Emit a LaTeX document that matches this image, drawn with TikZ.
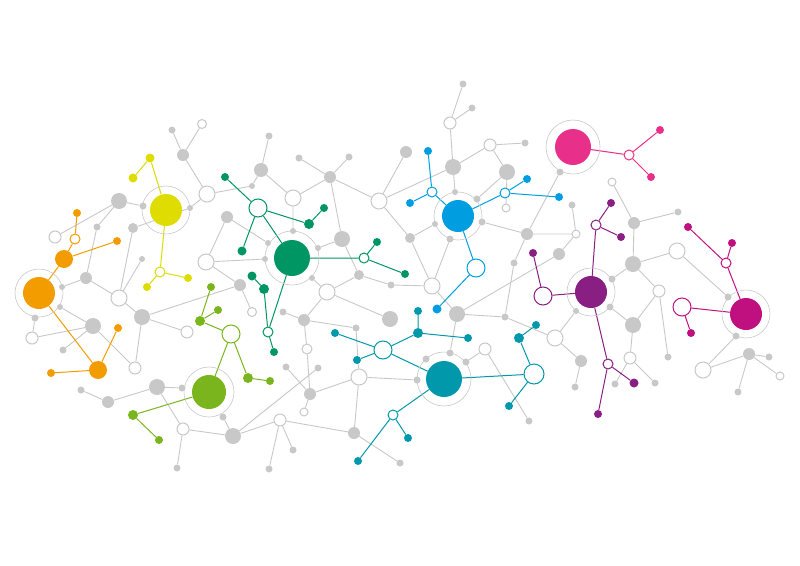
\documentclass[tikz,border=0pt]{standalone}
\usepackage{tikz}
\usetikzlibrary{backgrounds}

\definecolor{netgray}{RGB}{200,200,200}
\definecolor{norange}{RGB}{243,156,0}
\definecolor{nyellow}{RGB}{222,220,0}
\definecolor{nlime}{RGB}{122,181,29}
\definecolor{ngreen}{RGB}{0,150,100}
\definecolor{nblue}{RGB}{0,158,224}
\definecolor{nteal}{RGB}{0,152,170}
\definecolor{npurple}{RGB}{137,30,131}
\definecolor{nmagenta}{RGB}{192,16,128}
\definecolor{npink}{RGB}{232,48,138}

\begin{document}
\begin{tikzpicture}[x=1pt,y=-1pt,
  dot/.style={circle,fill=netgray,inner sep=0pt,minimum size=#1},
  dot/.default=7pt,
  ring/.style={circle,draw=netgray,fill=white,line width=1pt,inner sep=0pt,minimum size=#1},
  ring/.default=9pt,
  halo/.style={circle,draw=netgray,line width=0.6pt,inner sep=0pt,minimum size=#1},
  hub/.style={circle,fill=#1,inner sep=0pt,minimum size=32pt},
  leaf/.style={circle,fill=#1,inner sep=0pt,minimum size=8pt},
  knot/.style={circle,draw=#1,fill=white,line width=1pt,inner sep=0pt,minimum size=10pt},
  link/.style={draw=netgray,line width=0.9pt},
  twig/.style={draw=#1,line width=1pt}]
 \useasboundingbox (0,0) rectangle (800,565);

 \node[ring=12pt] (g1) at (55,237) {}; \node[dot] (g2) at (97,227) {}; \node[dot=10pt] (g3) at (133,228) {};
 \node[dot=16pt] (g4) at (119,201) {}; \node[dot] (g5) at (143,206) {}; \node[dot] (g6) at (172,130) {};
 \node[dot=12pt] (g7) at (183,155) {}; \node[ring] (g8) at (202,124) {}; \node[ring=16pt] (g9) at (207,194) {};
 \node[dot=6pt] (g10) at (190,208) {}; \node[dot=12pt] (g11) at (227,217) {}; \node[dot=6pt] (g12) at (252,186) {};
 \node[dot=14pt] (g13) at (261,170) {}; \node[dot] (g14) at (269,136) {}; \node[dot=12pt] (g15) at (86,278) {};
 \node[dot=6pt] (g16) at (62,287) {}; \node[dot=6pt] (g17) at (60,307) {}; \node[dot] (g18) at (35,318) {};
 \node[ring=12pt] (g19) at (32,338) {}; \node[dot=16pt] (g20) at (93,326) {}; \node[ring=16pt] (g21) at (119,298) {};
 \node[dot=6pt] (g22) at (142,259) {}; \node[dot=16pt] (g23) at (142,317) {}; \node[ring=12pt] (g24) at (187,332) {};
 \node[ring=16pt] (g25) at (206,262) {}; \node[dot=12pt] (g26) at (240,285) {}; \node[ring] (g27) at (252,312) {};
 \node[dot] (g28) at (63,350) {}; \node[ring=12pt] (g29) at (135,368) {}; \node[dot] (g30) at (81,390) {};
 \node[dot=12pt] (g31) at (108,402) {}; \node[dot=16pt] (g32) at (157,387) {}; \node[dot] (g33) at (182,388) {};
 \node[ring=12pt] (g34) at (183,429) {}; \node[dot] (g35) at (177,468) {}; \node[dot] (g36) at (223,417) {};
 \node[dot=16pt] (g37) at (233,436) {}; \node[dot] (g38) at (269,469) {}; \node[ring=12pt] (g39) at (280,420) {};
 \node[dot] (g40) at (293,450) {};
 \node[dot=6pt] (g41) at (268,243) {}; \node[dot=6pt] (g42) at (265,259) {}; \node[dot=6pt] (g43) at (293,231) {};
 \node[dot] (g44) at (299,158) {}; \node[ring=16pt] (g45) at (293,198) {}; \node[dot=12pt] (g46) at (330,177) {};
 \node[dot] (g47) at (349,157) {}; \node[ring=16pt] (g48) at (379,201) {}; \node[dot=16pt] (g49) at (342,239) {};
 \node[dot=6pt] (g50) at (318,248) {}; \node[dot=6pt] (g51) at (312,278) {}; \node[dot=10pt] (g52) at (359,275) {};
 \node[ring=16pt] (g53) at (327,292) {}; \node[dot] (g54) at (283,312) {}; \node[dot=12pt] (g55) at (304,320) {};
 \node[dot] (g56) at (356,328) {}; \node[dot] (g57) at (391,285) {}; \node[dot=16pt] (g58) at (390,319) {};
 \node[ring=10pt] (g59) at (307,349) {}; \node[dot] (g60) at (286,367) {}; \node[dot] (g61) at (318,368) {};
 \node[dot=12pt] (g62) at (310,394) {}; \node[ring=8pt] (g63) at (304,412) {}; \node[ring=16pt] (g64) at (359,377) {};
 \node[dot=12pt] (g65) at (354,433) {}; \node[dot] (g66) at (400,463) {}; \node[dot=12pt] (g67) at (406,152) {};
 \node[dot] (g68) at (463,84) {}; \node[dot] (g69) at (472,108) {}; \node[ring=12pt] (g70) at (450,123) {};
 \node[dot=16pt] (g71) at (453,167) {}; \node[ring=12pt] (g72) at (490,145) {}; \node[dot] (g73) at (525,143) {};
 \node[dot=16pt] (g74) at (507,172) {}; \node[dot=6pt] (g75) at (455,192) {}; \node[dot] (g76) at (477,199) {};
 \node[ring=8pt] (g77) at (506,208) {}; \node[dot=6pt] (g78) at (435,224) {}; \node[dot=10pt] (g79) at (410,238) {};
 \node[dot] (g80) at (482,222) {}; \node[dot] (g81) at (450,239) {}; \node[ring=16pt] (g82) at (432,286) {};
 \node[dot=16pt] (g83) at (457,314) {}; \node[dot] (g84) at (505,317) {}; \node[dot] (g85) at (514,263) {};
 \node[dot] (g86) at (426,359) {}; \node[dot] (g87) at (450,353) {}; \node[dot] (g88) at (466,362) {};
 \node[ring=12pt] (g89) at (485,349) {}; \node[dot] (g90) at (417,380) {}; \node[dot] (g91) at (529,421) {};
 \node[dot] (g92) at (560,172) {}; \node[dot] (g93) at (572,205) {}; \node[dot=12pt] (g94) at (527,234) {};
 \node[ring=8pt] (g95) at (576,234) {}; \node[dot=12pt] (g96) at (559,254) {}; \node[dot=6pt] (g97) at (576,311) {};
 \node[ring=16pt] (g98) at (555,338) {}; \node[dot=12pt] (g99) at (581,361) {}; \node[dot] (g100) at (575,387) {};
 \node[ring=8pt] (g101) at (612,182) {}; \node[dot=12pt] (g102) at (634,223) {}; \node[dot] (g103) at (678,212) {};
 \node[ring=16pt] (g104) at (677,251) {}; \node[dot=16pt] (g105) at (633,264) {}; \node[dot] (g106) at (612,279) {};
 \node[ring=12pt] (g107) at (659,291) {}; \node[dot] (g108) at (610,307) {}; \node[dot=16pt] (g109) at (633,325) {};
 \node[dot] (g110) at (728,297) {}; \node[dot] (g111) at (736,336) {}; \node[ring=12pt] (g112) at (630,358) {};
 \node[dot] (g113) at (615,384) {}; \node[dot] (g114) at (655,383) {}; \node[dot] (g115) at (668,357) {};
 \node[ring=16pt] (g116) at (703,370) {}; \node[dot=12pt] (g117) at (749,354) {}; \node[dot] (g118) at (769,357) {};
 \node[ring=8pt] (g119) at (780,376) {}; \node[dot] (g120) at (738,392) {};

 \node[halo=48pt] (or0) at (39,293) {};
 \node[hub=norange] (or1) at (39,293) {};
 \node[leaf=norange,minimum size=18pt] (or2) at (64,259) {};
 \node[knot=norange] (or3) at (75,239) {};
 \node[leaf=norange] (or4) at (77,213) {};
 \node[leaf=norange] (or5) at (117,241) {};
 \node[leaf=norange,minimum size=18pt] (or6) at (98,370) {};
 \node[leaf=norange] (or7) at (118,328) {};
 \node[leaf=norange] (or8) at (51,373) {};

 \node[halo=48pt] (ye0) at (166,210) {};
 \node[hub=nyellow] (ye1) at (166,210) {};
 \node[leaf=nyellow,minimum size=9pt] (ye2) at (150,158) {};
 \node[leaf=nyellow,minimum size=9pt] (ye3) at (133,178) {};
 \node[knot=nyellow] (ye4) at (160,272) {};
 \node[leaf=nyellow] (ye5) at (188,278) {};
 \node[leaf=nyellow] (ye6) at (147,287) {};

 \node[halo=50pt] (li0) at (209,392) {};
 \node[hub=nlime,minimum size=34pt] (li1) at (209,392) {};
 \node[knot=nlime,minimum size=18pt] (li2) at (231,334) {};
 \node[leaf=nlime,minimum size=10pt] (li3) at (200,321) {};
 \node[leaf=nlime] (li4) at (211,287) {};
 \node[leaf=nlime] (li5) at (218,310) {};
 \node[leaf=nlime,minimum size=10pt] (li6) at (248,378) {};
 \node[leaf=nlime] (li7) at (270,381) {};
 \node[leaf=nlime,minimum size=10pt] (li8) at (133,415) {};
 \node[leaf=nlime] (li9) at (159,440) {};

 \node[halo=54pt] (gr0) at (292,258) {};
 \node[hub=ngreen,minimum size=36pt] (gr1) at (292,258) {};
 \node[knot=ngreen,minimum size=18pt] (gr2) at (258,208) {};
 \node[leaf=ngreen] (gr3) at (225,177) {};
 \node[leaf=ngreen,minimum size=9pt] (gr4) at (242,251) {};
 \node[leaf=ngreen,minimum size=10pt] (gr5) at (309,224) {};
 \node[leaf=ngreen] (gr6) at (324,208) {};
 \node[knot=ngreen] (gr7) at (364,258) {};
 \node[leaf=ngreen] (gr8) at (377,242) {};
 \node[leaf=ngreen] (gr9) at (405,274) {};
 \node[leaf=ngreen,minimum size=9pt] (gr10) at (252,276) {};
 \node[leaf=ngreen,minimum size=10pt] (gr11) at (264,289) {};
 \node[knot=ngreen] (gr12) at (268,332) {};
 \node[leaf=ngreen] (gr13) at (274,352) {};

 \node[halo=48pt] (bl0) at (458,216) {};
 \node[hub=nblue] (bl1) at (458,216) {};
 \node[knot=nblue] (bl2) at (432,192) {};
 \node[leaf=nblue] (bl3) at (428,151) {};
 \node[leaf=nblue] (bl4) at (410,203) {};
 \node[knot=nblue] (bl5) at (505,193) {};
 \node[leaf=nblue] (bl6) at (527,179) {};
 \node[leaf=nblue] (bl7) at (559,197) {};
 \node[knot=nblue,minimum size=18pt] (bl8) at (476,268) {};
 \node[leaf=nblue,minimum size=9pt] (bl9) at (437,309) {};

 \node[halo=54pt] (te0) at (444,379) {};
 \node[hub=nteal,minimum size=36pt] (te1) at (444,379) {};
 \node[knot=nteal,minimum size=18pt] (te2) at (383,350) {};
 \node[leaf=nteal] (te3) at (335,333) {};
 \node[leaf=nteal] (te4) at (357,360) {};
 \node[leaf=nteal,minimum size=10pt] (te5) at (418,333) {};
 \node[leaf=nteal] (te6) at (418,311) {};
 \node[leaf=nteal] (te7) at (468,338) {};
 \node[knot=nteal,minimum size=20pt] (te8) at (534,374) {};
 \node[leaf=nteal,minimum size=10pt] (te9) at (519,338) {};
 \node[leaf=nteal] (te10) at (536,325) {};
 \node[leaf=nteal] (te11) at (509,406) {};
 \node[knot=nteal] (te12) at (393,415) {};
 \node[leaf=nteal] (te13) at (358,461) {};
 \node[leaf=nteal] (te14) at (408,438) {};

 \node[halo=48pt] (pu0) at (591,292) {};
 \node[hub=npurple] (pu1) at (591,292) {};
 \node[knot=npurple,minimum size=18pt] (pu2) at (543,296) {};
 \node[leaf=npurple] (pu3) at (533,253) {};
 \node[knot=npurple] (pu4) at (596,225) {};
 \node[leaf=npurple] (pu5) at (611,203) {};
 \node[leaf=npurple] (pu6) at (621,237) {};
 \node[knot=npurple] (pu7) at (608,364) {};
 \node[leaf=npurple,minimum size=9pt] (pu8) at (634,383) {};
 \node[leaf=npurple] (pu9) at (598,414) {};

 \node[halo=48pt] (ma0) at (746,314) {};
 \node[hub=nmagenta] (ma1) at (746,314) {};
 \node[knot=nmagenta] (ma2) at (726,263) {};
 \node[leaf=nmagenta] (ma3) at (688,227) {};
 \node[leaf=nmagenta] (ma4) at (732,243) {};
 \node[knot=nmagenta,minimum size=18pt] (ma5) at (682,307) {};
 \node[leaf=nmagenta] (ma6) at (691,333) {};

 \node[halo=54pt] (pi0) at (573,147) {};
 \node[hub=npink,minimum size=36pt] (pi1) at (573,147) {};
 \node[knot=npink] (pi2) at (629,155) {};
 \node[leaf=npink] (pi3) at (660,130) {};
 \node[leaf=npink] (pi4) at (651,177) {};

 \begin{scope}[on background layer]
 \draw[link] (g1)--(g4) (g2)--(g4) (g2)--(g15) (g4)--(g5) (g3)--(g10) (g3)--(g21) (g22)--(g21)
  (g15)--(g16) (g15)--(g21) (g17)--(g20) (g18)--(g19) (g19)--(g20) (g20)--(g29) (g28)--(g20)
  (g23)--(g29) (g23)--(g21) (g23)--(g24) (g23)--(g26) (g25)--(g26) (g25)--(g11) (g25)--(g42)
  (g26)--(g27) (g6)--(g7) (g7)--(g8) (g7)--(g9) (g9)--(g12) (g12)--(g13) (g13)--(g14)
  (g13)--(g45) (g11)--(g41) (g9)--(g10) (g30)--(g31) (g31)--(g32) (g32)--(g33) (g32)--(g34)
  (g34)--(g35) (g34)--(g37) (g36)--(g37) (g37)--(g39) (g39)--(g38) (g39)--(g40) (g39)--(g65)
  (g37)--(g61);
 \draw[link] (g43)--(g45) (g45)--(g46) (g46)--(g44) (g46)--(g47) (g46)--(g48) (g46)--(g49)
  (g48)--(g67) (g48)--(g71) (g48)--(g79) (g49)--(g50) (g49)--(g52) (g52)--(g53) (g51)--(g53)
  (g53)--(g55) (g53)--(g58) (g52)--(g57) (g57)--(g82) (g55)--(g54) (g55)--(g56) (g56)--(g64)
  (g59)--(g55) (g59)--(g62) (g60)--(g62) (g62)--(g63) (g62)--(g64) (g64)--(g90) (g64)--(g65)
  (g65)--(g66);
 \draw[link] (g68)--(g70) (g69)--(g70) (g70)--(g71) (g71)--(g72) (g72)--(g73) (g72)--(g74)
  (g74)--(g76) (g74)--(g77) (g71)--(g75) (g78)--(g79) (g79)--(g82) (g81)--(g82) (g82)--(g83)
  (g83)--(g84) (g83)--(g96) (g84)--(g85) (g83)--(g87) (g88)--(g89) (g89)--(g91) (g80)--(g94)
  (g94)--(g85) (g92)--(g94) (g94)--(g95) (g95)--(g93) (g95)--(g96);
 \draw[link] (g97)--(g98) (g98)--(g99) (g99)--(g100) (g98)--(g84) (g101)--(g102) (g102)--(g103)
  (g102)--(g105) (g105)--(g104) (g105)--(g106) (g104)--(g110) (g107)--(g105) (g108)--(g109)
  (g107)--(g109) (g107)--(g115) (g109)--(g112) (g112)--(g113) (g112)--(g114) (g111)--(g116)
  (g116)--(g117) (g117)--(g118) (g117)--(g119) (g117)--(g120);

 \draw[twig=norange] (or1)--(or2) (or2)--(or3) (or3)--(or4) (or2)--(or5) (or1)--(or6) (or6)--(or7) (or6)--(or8);
 \draw[twig=nyellow] (ye1)--(ye2) (ye2)--(ye3) (ye1)--(ye4) (ye4)--(ye5) (ye4)--(ye6);
 \draw[twig=nlime] (li1)--(li2) (li2)--(li3) (li3)--(li4) (li3)--(li5) (li2)--(li6) (li6)--(li7) (li1)--(li8) (li8)--(li9);
 \draw[twig=ngreen] (gr1)--(gr2) (gr2)--(gr3) (gr2)--(gr4) (gr2)--(gr5) (gr5)--(gr6) (gr1)--(gr7) (gr7)--(gr8)
  (gr7)--(gr9) (gr10)--(gr11) (gr11)--(gr12) (gr1)--(gr12) (gr12)--(gr13);
 \draw[twig=nblue] (bl1)--(bl2) (bl2)--(bl3) (bl2)--(bl4) (bl1)--(bl5) (bl5)--(bl6) (bl5)--(bl7) (bl1)--(bl8) (bl8)--(bl9);
 \draw[twig=nteal] (te1)--(te2) (te2)--(te3) (te2)--(te4) (te2)--(te5) (te5)--(te6) (te5)--(te7) (te1)--(te8)
  (te8)--(te9) (te9)--(te10) (te8)--(te11) (te1)--(te12) (te12)--(te13) (te12)--(te14);
 \draw[twig=npurple] (pu1)--(pu2) (pu2)--(pu3) (pu1)--(pu4) (pu4)--(pu5) (pu4)--(pu6) (pu1)--(pu7) (pu7)--(pu8) (pu7)--(pu9);
 \draw[twig=nmagenta] (ma1)--(ma2) (ma2)--(ma3) (ma2)--(ma4) (ma1)--(ma5) (ma5)--(ma6);
 \draw[twig=npink] (pi1)--(pi2) (pi2)--(pi3) (pi2)--(pi4);
 \end{scope}
\end{tikzpicture}
\end{document}
